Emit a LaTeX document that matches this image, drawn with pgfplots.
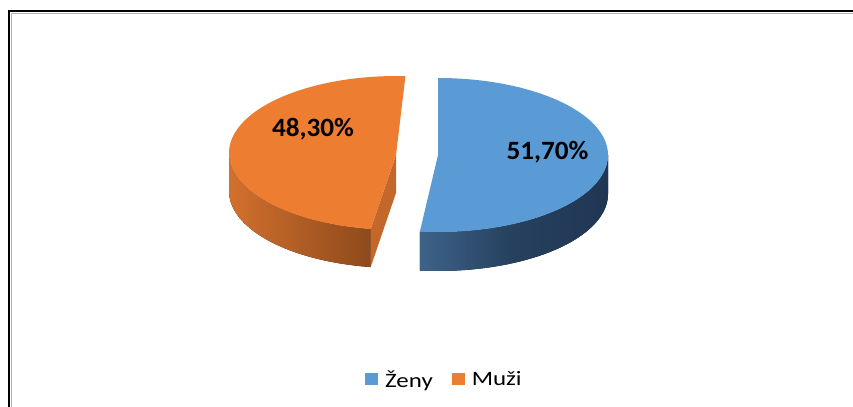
\documentclass[border=0pt]{standalone}
\usepackage{fontspec}
\setmainfont{Carlito}
\newfontfamily\legfont[FakeStretch=1.22]{Carlito}
\newfontfamily\labfont[FakeStretch=1.03]{Carlito}
\usepackage{pgfplots}
\pgfplotsset{compat=1.18}
\usepgfplotslibrary{fillbetween}
\definecolor{bluetop}{HTML}{5B9BD5}
\definecolor{bluewallL}{HTML}{3D6389}
\definecolor{bluewallM}{HTML}{26405E}
\definecolor{bluewallR}{HTML}{203754}
\definecolor{orgtop}{HTML}{ED7D31}
\definecolor{orgwallL}{HTML}{D2702D}
\definecolor{orgwallR}{HTML}{8E4A1B}
\definecolor{orgface}{HTML}{C4672A}
\begin{document}
\begin{tikzpicture}
\def\vB{51.7}\def\vO{48.3}
\pgfmathsetmacro\eB{\vB*3.6}
\pgfmathsetmacro\sO{189}
\pgfmathsetmacro\eO{\sO+\vO*3.6}
\begin{axis}[width=853bp,height=407bp,scale only axis,
  xmin=0,xmax=853,ymin=0,ymax=407,axis lines=none,
  legend image code/.code={\fill[#1] (0bp,-5.5bp) rectangle (13bp,6.5bp);},
  legend style={at={(axis cs:362,14)}, anchor=south west, draw=none, fill=none,
    font=\legfont\fontsize{20.5}{22}\selectfont, legend columns=-1,
    /tikz/every odd column/.append style={column sep=5bp},
    /tikz/every even column/.append style={column sep=17bp}},
  legend cell align=left]
% frame
\draw[black, line width=2bp] (axis cs:9,-5) -- (axis cs:9,396) -- (axis cs:860,396);
\draw[gray!60, line width=1bp] (axis cs:11.5,-5) -- (axis cs:11.5,393.5) -- (axis cs:860,393.5);
% blue wall
\addplot[name path=bt, draw=none, domain=90:\eB, samples=60, variable=\t, forget plot] ({438+170*sin(\t)},{252+77*cos(\t)});
\addplot[name path=bb, draw=none, domain=90:\eB, samples=60, variable=\t, forget plot] ({438+170*sin(\t)},{213+77*cos(\t)});
\addplot[left color=bluewallL, right color=bluewallR, middle color=bluewallM, draw=none, forget plot] fill between[of=bt and bb];
% blue top
\addplot[fill=bluetop, draw=none, domain=0:\eB, samples=120, variable=\t] ({438+170*sin(\t)},{252+77*cos(\t)}) -- (438,252) -- cycle;
\addlegendentry{Ženy}
% orange wall
\addplot[name path=ot, draw=none, domain=\sO:270, samples=60, variable=\t, forget plot] ({397+168*sin(\t)},{254+77*cos(\t)});
\addplot[name path=ob, draw=none, domain=\sO:270, samples=60, variable=\t, forget plot] ({397+168*sin(\t)},{216+77*cos(\t)});
\addplot[left color=orgwallL, right color=orgwallR, draw=none, forget plot] fill between[of=ot and ob];
% orange radial face
\addplot[fill=orgface, draw=none, forget plot] coordinates {(370.7,177.95) (396,252) (396,214) (370.7,139.95)} -- cycle;
% orange top
\addplot[fill=orgtop, draw=none, domain=\sO:\eO, samples=120, variable=\t] ({397+168*sin(\t)},{254+77*cos(\t)}) -- (396,252) -- cycle;
\addlegendentry{Muži}
% labels
\node[font=\labfont\bfseries\fontsize{26.5}{27}\selectfont, anchor=base] at (axis cs:313,270.3) {48,30\%};
\node[font=\labfont\bfseries\fontsize{26.5}{27}\selectfont, anchor=base] at (axis cs:547.5,247.7) {51,70\%};
\end{axis}
\end{tikzpicture}
\end{document}
